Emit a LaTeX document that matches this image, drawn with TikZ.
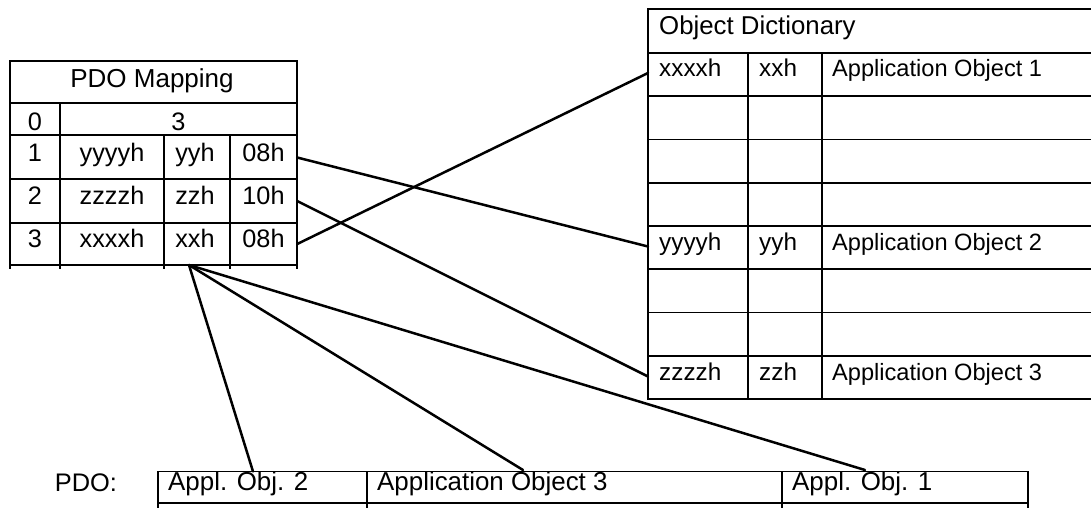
\documentclass[tikz,border=0pt]{standalone}
\usepackage{fontspec}
\setmainfont{Liberation Sans}
\begin{document}
\begin{tikzpicture}[x=1pt,y=-1pt,
  grid/.style={line width=1.8pt, line cap=rect},
  link/.style={line width=2.5pt, line cap=round},
  txt/.style={inner sep=0pt, text height=0.72em, text depth=0pt, font=\fontsize{25.3}{30}\selectfont},
  cell/.style={txt, minimum height=42pt},
  odtxt/.style={txt, anchor=west, inner xsep=11pt, font=\fontsize{24.3}{29}\selectfont},
  odapp/.style={odtxt, inner xsep=10pt, font=\fontsize{23.6}{28}\selectfont},
  btxt/.style={txt, anchor=west, inner xsep=10pt, font=\fontsize{25.9}{30}\selectfont}]
\useasboundingbox (0,0) rectangle (1091,507);

% ---------- PDO Mapping table ----------
\draw[grid] (10,61) -- (297,61);
\draw[grid] (10,103) -- (297,103);
\draw[grid] (10,135) -- (297,135);
\draw[grid] (10,179) -- (297,179);
\draw[grid] (10,223) -- (297,223);
\draw[grid] (10,265) -- (297,265);
\draw[grid] (10,61) -- (10,268);
\draw[grid] (297,61) -- (297,268);
\draw[grid] (60,103) -- (60,268);
\draw[grid] (164,135) -- (164,268);
\draw[grid] (230,135) -- (230,268);

\node[cell, minimum width=287pt, font=\fontsize{26}{30}\selectfont] (mhead) at (152,84) {PDO Mapping};
\node[txt] (m0a) at (35,127) {0};
\node[txt] (m0b) at (178.5,127) {3};

\node[cell, minimum width=50pt]  (m1a) at (35,157.5) {1};
\node[cell, minimum width=104pt] (m1b) at (112,157.5) {yyyyh};
\node[cell, minimum width=66pt]  (m1c) at (195,157.5) {yyh};
\node[cell, minimum width=67pt]  (m1d) at (263.5,157.5) {08h};

\node[cell, minimum width=50pt]  (m2a) at (35,201) {2};
\node[cell, minimum width=104pt] (m2b) at (112,201) {zzzzh};
\node[cell, minimum width=66pt]  (m2c) at (195,201) {zzh};
\node[cell, minimum width=67pt]  (m2d) at (263.5,201) {10h};

\node[cell, minimum width=50pt]  (m3a) at (35,244) {3};
\node[cell, minimum width=104pt] (m3b) at (112,244) {xxxxh};
\node[cell, minimum width=66pt]  (m3c) at (195,244) {xxh};
\node[cell, minimum width=67pt]  (m3d) at (263.5,244) {08h};

% ---------- Object Dictionary ----------
\foreach \yy in {9,53,96.25,139.5,182.75,226,269.25,312.5,355.75,399}
  \draw[grid] (648,\yy) -- (1091,\yy);
\draw[grid] (648,9) -- (648,399);
\draw[grid] (748,53) -- (748,399);
\draw[grid] (822,53) -- (822,399);

\node[odtxt, font=\fontsize{25.8}{30}\selectfont] (ohead) at (648,31) {Object Dictionary};
\node[odtxt] (o1a) at (648,73) {xxxxh};
\node[odtxt] (o1b) at (748,73) {xxh};
\node[odapp] (o1c) at (822,73) {Application Object 1};
\node[odtxt] (o5a) at (648,246.5) {yyyyh};
\node[odtxt] (o5b) at (748,246.5) {yyh};
\node[odapp] (o5c) at (822,246.5) {Application Object 2};
\node[odtxt] (o8a) at (648,376.5) {zzzzh};
\node[odtxt] (o8b) at (748,376.5) {zzh};
\node[odapp] (o8c) at (822,376.5) {Application Object 3};

% ---------- PDO row ----------
\draw[grid] (158,471.5) -- (1028,471.5);
\draw[grid] (158,502.7) -- (1028,502.7);
\foreach \xx in {158,367,782,1028}
  \draw[grid] (\xx,471.5) -- (\xx,508);

\node[txt, font=\fontsize{25.4}{30}\selectfont] (pdo) at (86,488) {PDO:};
\node[btxt] (b2) at (158,486.5) {Appl. Obj. 2};
\node[btxt] (b3) at (367,486.5) {Application Object 3};
\node[btxt] (b1) at (782,486.5) {Appl. Obj. 1};

% ---------- connectors ----------
\coordinate (fan) at (189,265);
\coordinate (e2) at (253,471.5);
\coordinate (e3) at (523,470);
\coordinate (e1) at (865,470);

\draw[link] (m1d.east) -- (o5a.west);
\draw[link] (m2d.east) -- (o8a.west);
\draw[link] (m3d.east) -- (o1a.west);
\draw[link] (fan) -- (e2);
\draw[link] (fan) -- (e3);
\draw[link] (fan) -- (e1);
\end{tikzpicture}
\end{document}
